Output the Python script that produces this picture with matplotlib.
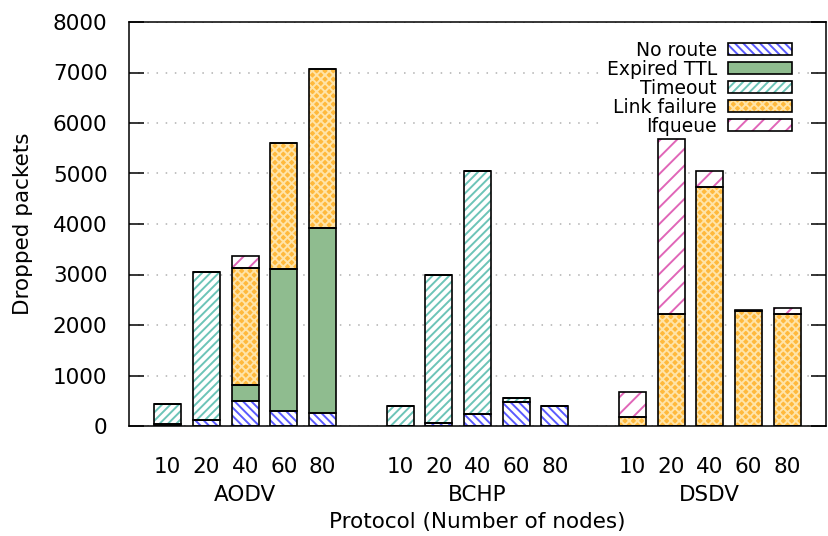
import numpy as np
import matplotlib
matplotlib.use('Agg')
import matplotlib.pyplot as plt
from matplotlib.patches import Patch
from matplotlib.legend_handler import HandlerTuple

# Data (dropped packets, stacked from bottom)
protocols = ['AODV', 'BCHP', 'DSDV']
nodes = ['10', '20', '40', '60', '80']
series = ['No route', 'Expired TTL', 'Timeout', 'Link failure', 'Ifqueue']

no_route = [0, 110, 500, 300, 260, 0, 65, 235, 475, 395, 0, 0, 0, 0, 0]
expired_ttl = [40, 0, 320, 2810, 3670, 0, 0, 0, 0, 0, 0, 0, 0, 0, 0]
timeout = [400, 2940, 0, 0, 0, 395, 2935, 4815, 70, 0, 0, 0, 0, 0, 0]
link_failure = [0, 0, 2300, 2490, 3135, 0, 0, 0, 0, 0, 185, 2210, 4740, 2270, 2225]
ifqueue = [0, 0, 240, 0, 0, 0, 0, 0, 0, 0, 485, 3470, 310, 20, 105]

# style per series: face colour, hatch, hatch colour
styles = [
    ('white', '\\\\\\\\', '#5a5aff'),
    ('#8fbc8f', '', '#8fbc8f'),
    ('white', '////', '#6cc4b8'),
    ('#ffb93c', 'xxxx', '#ffe4a8'),
    ('white', '//', '#e066b8'),
]

plt.rcParams['font.family'] = ['DejaVu Sans']
plt.rcParams['hatch.linewidth'] = 1.4

fig = plt.figure(figsize=(8.29, 5.36), dpi=100)
ax = fig.add_axes([129 / 829, 110 / 536, 697 / 829, 404 / 536])

pos = np.concatenate([np.arange(5) + 6 * g for g in range(len(protocols))])
width = 0.7

data = [no_route, expired_ttl, timeout, link_failure, ifqueue]
bottom = np.zeros(len(pos))
handles = []
for name, vals, (fc, hatch, hc) in zip(series, data, styles):
    vals = np.array(vals, dtype=float)
    ax.bar(pos, vals, width, bottom=bottom, color=fc, hatch=hatch,
           edgecolor=hc, linewidth=0, zorder=2)
    ax.bar(pos, vals, width, bottom=bottom, fill=False,
           edgecolor='black', linewidth=1.2, zorder=3)
    bottom += vals
    h1 = Patch(facecolor=fc, hatch=hatch, edgecolor=hc, linewidth=0)
    h2 = Patch(fill=False, edgecolor='black', linewidth=1.2)
    handles.append((h1, h2))

ax.set_xlim(-1, 17)
ax.set_ylim(0, 8000)
ax.set_yticks(np.arange(0, 8001, 1000))
ax.set_xticks(pos)
ax.set_xticklabels(nodes * len(protocols))
ax.tick_params(axis='y', direction='in', length=11, width=1.1,
               labelsize=15.5, pad=15.5, right=True)
ax.tick_params(axis='x', length=0, labelsize=15.5, pad=22)
for s in ax.spines.values():
    s.set_linewidth(1.1)

ax.grid(axis='y', color='#b0b0b0', linestyle=(0, (1, 5)), linewidth=1.1, zorder=1)
ax.set_axisbelow(True)

for g, p in enumerate(protocols):
    ax.text(6 * g + 2, -0.17, p, transform=ax.get_xaxis_transform(),
            ha='center', va='center', fontsize=15.5)

ax.set_ylabel('Dropped packets', fontsize=15.5, labelpad=14)
fig.text(477 / 829, 1 - 522 / 536, 'Protocol (Number of nodes)',
         ha='center', va='center', fontsize=15.5)

leg = ax.legend(handles, series, handler_map={tuple: HandlerTuple(ndivide=1, pad=0)},
                loc='upper right', bbox_to_anchor=(0.97, 0.986), markerfirst=False,
                fontsize=13.5, handlelength=3.4, handleheight=0.55,
                handletextpad=0.6, labelspacing=0.0, borderpad=0.2,
                frameon=True, fancybox=False, framealpha=1, edgecolor='none')
for t in leg.get_texts():
    t.set_ha('right')
leg.set_zorder(1.5)

fig.savefig('out.png', dpi=100)
